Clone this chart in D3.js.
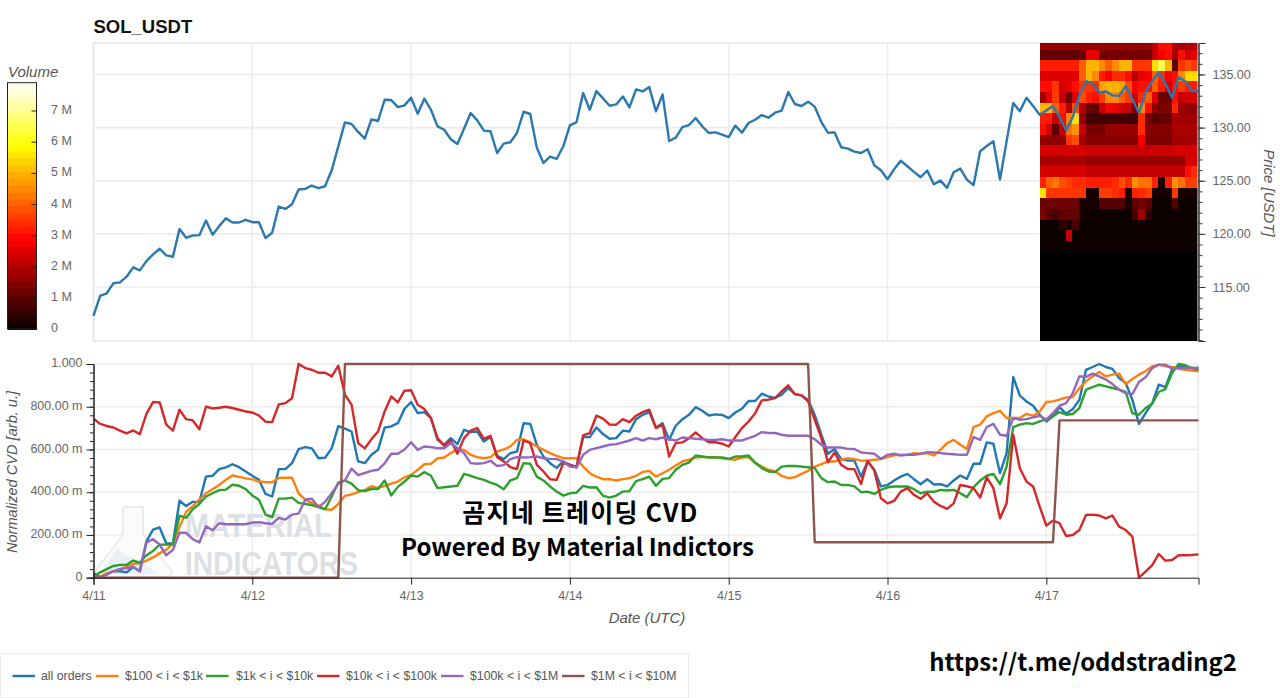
<!DOCTYPE html>
<html>
<head>
<meta charset="utf-8">
<script src="https://d3js.org/d3.v7.min.js"></script>
<style>
  body { margin: 0; background: #fff; }
  text { font-family: "Liberation Sans", Arial, sans-serif; }
  .domain-light { stroke: #e8e8e8; stroke-width: 1.5; fill: none; }
  .grid line { stroke: #ececec; stroke-width: 1.6; }
  .lab text { fill: #666; font-size: 12.5px; }
</style>
</head>
<body>
<script>
// hourly values, 4/11 00:00 -> 4/17 23:00 UTC
let price = [112.28,114.16,114.41,115.35,115.44,115.97,116.85,116.57,117.44,118.07,118.60,117.98,117.85,120.45,119.63,119.85,119.88,121.26,119.91,120.73,121.48,121.07,121.07,121.32,
121.10,121.10,119.60,120.10,122.57,122.35,122.79,124.17,124.23,124.55,124.30,124.48,125.98,128.24,130.49,130.34,129.59,128.96,130.77,130.62,132.62,132.59,131.93,132.09,
132.81,131.31,132.72,131.68,130.12,129.80,128.90,128.46,129.90,131.37,130.68,129.71,129.65,127.61,128.49,128.62,129.49,131.49,131.28,128.11,126.67,127.27,127.05,128.24,
130.21,130.52,133.25,131.68,133.44,132.75,132.06,132.18,132.93,131.90,133.59,133.40,133.81,131.53,133.12,128.74,129.05,130.05,130.24,130.90,130.12,129.49,129.55,129.33,
129.11,130.18,129.52,130.43,130.74,131.18,130.93,131.40,131.59,133.34,132.22,132.03,132.44,131.97,130.52,129.52,129.55,128.15,128.02,127.74,127.61,127.96,126.46,125.99,
125.14,126.08,126.89,126.36,125.83,125.33,125.95,124.67,125.01,124.33,125.80,126.14,125.11,124.58,127.77,128.27,128.71,125.11,128.70,132.31,131.53,132.81,132.03,131.21,
131.62,132.02,130.99,129.74,130.99,133.03,134.37,134.12,133.28,133.43,133.03,132.99,133.90,132.71,131.37,133.34,134.37,135.22,134.12,132.81,134.75,134.37,133.43,133.43];

let cvd = {
  "all orders": [.02,.004,.015,.03,.03,.025,.05,.03,.17,.225,.235,.16,.16,.36,.335,.355,.355,.473,.477,.508,.516,.531,.517,.497,
    .477,.458,.392,.38,.508,.508,.536,.602,.611,.605,.559,.561,.605,.709,.698,.684,.544,.536,.575,.598,.702,.708,.723,.79,
    .822,.77,.775,.747,.645,.622,.653,.625,.692,.681,.684,.637,.658,.57,.555,.583,.59,.723,.72,.622,.567,.536,.514,.544,
    .528,.52,.658,.658,.703,.672,.65,.653,.688,.684,.742,.762,.775,.703,.723,.645,.711,.742,.762,.798,.781,.759,.764,.762,
    .747,.773,.791,.827,.827,.861,.848,.841,.856,.888,.859,.853,.833,.762,.669,.58,.602,.555,.548,.548,.473,.544,.505,.427,
    .434,.455,.473,.486,.461,.4375,.461,.436,.4375,.427,.455,.478,.4625,.533,.533,.633,.627,.489,.583,.939,.852,.825,.805,.7625,
    .731,.755,.798,.767,.789,.833,.973,.986,1,.986,.977,.934,.911,.833,.72,.77,.817,.903,.892,.973,.992,.986,.981,.981],
  "$100 < i < $1k": [0,.005,.02,.03,.04,.05,.065,.067,.08,.095,.115,.13,.16,.238,.308,.335,.365,.395,.414,.434,.458,.478,.472,.465,
    .46,.45,.447,.447,.467,.468,.468,.395,.365,.35,.338,.32,.318,.345,.383,.39,.40,.41,.428,.42,.43,.44,.45,.47,
    .481,.505,.531,.533,.559,.5625,.583,.60,.598,.575,.564,.559,.564,.59,.60,.614,.645,.648,.633,.614,.598,.583,.57,.559,
    .559,.559,.52,.489,.473,.461,.461,.455,.461,.466,.477,.495,.50,.473,.489,.505,.525,.544,.552,.5625,.564,.564,.564,.559,
    .555,.552,.5625,.564,.536,.52,.505,.497,.477,.466,.47,.486,.50,.52,.531,.544,.544,.552,.559,.555,.548,.548,.552,.555,
    .564,.573,.575,.575,.583,.58,.583,.572,.598,.63,.645,.622,.602,.705,.716,.755,.77,.781,.747,.747,.747,.767,.758,.778,
    .822,.825,.833,.844,.845,.8875,.919,.942,.9625,.942,.95,.955,.906,.93,.95,.966,.989,.997,.989,.986,.978,.973,.969,.966],
  "$1k < i < $10k": [.005,.025,.04,.055,.06,.06,.08,.07,.105,.125,.155,.155,.155,.29,.28,.32,.345,.38,.395,.41,.412,.435,.43,.415,
    .385,.365,.295,.283,.37,.37,.375,.35,.345,.34,.33,.32,.38,.445,.455,.44,.41,.405,.415,.415,.455,.385,.425,.45,
    .478,.473,.495,.477,.419,.423,.427,.43,.486,.477,.466,.458,.445,.434,.414,.455,.466,.536,.533,.473,.455,.427,.403,.384,
    .395,.398,.43,.422,.423,.384,.375,.384,.403,.405,.452,.461,.473,.43,.4625,.466,.505,.528,.539,.572,.567,.5625,.5625,.5625,
    .556,.567,.567,.572,.539,.5125,.497,.494,.52,.523,.523,.52,.517,.5125,.466,.447,.45,.434,.434,.427,.40,.403,.392,.411,
    .423,.427,.427,.427,.414,.395,.402,.402,.411,.408,.411,.395,.377,.423,.455,.477,.486,.4375,.52,.705,.716,.723,.72,.731,
    .742,.755,.775,.7625,.766,.794,.88,.892,.903,.895,.8875,.88,.869,.77,.7625,.794,.814,.869,.883,.958,1,.994,.981,.973],
  "$10k < i < $100k": [.744,.72,.71,.703,.688,.675,.689,.672,.767,.822,.82,.716,.688,.786,.742,.736,.695,.80,.792,.795,.80,.794,.786,.778,
    .773,.759,.73,.728,.811,.817,.84,1,.981,.973,.959,.959,.942,.992,.856,.81,.63,.605,.648,.684,.778,.848,.82,.875,
    .877,.809,.789,.747,.653,.617,.642,.58,.653,.688,.70,.65,.664,.564,.544,.517,.508,.642,.63,.528,.497,.461,.458,.536,
    .528,.516,.666,.677,.758,.744,.717,.716,.742,.728,.758,.775,.786,.70,.716,.567,.63,.633,.653,.68,.653,.634,.634,.627,
    .614,.658,.70,.731,.77,.83,.833,.841,.872,.90,.859,.853,.825,.739,.653,.541,.586,.528,.509,.508,.439,.547,.502,.372,
    .348,.359,.403,.419,.388,.369,.395,.356,.336,.322,.348,.434,.428,.419,.375,.47,.419,.278,.348,.669,.5125,.45,.427,.333,
    .244,.267,.255,.195,.20,.223,.294,.295,.291,.278,.291,.239,.223,.192,0,.028,.059,.111,.08,.083,.105,.105,.106,.109],
  "$100k < i < $1M": [0,.002,.015,.03,.04,.045,.05,.03,.165,.18,.155,.105,.13,.21,.21,.18,.165,.24,.222,.255,.25,.25,.25,.25,
    .258,.26,.255,.252,.28,.272,.295,.30,.365,.37,.33,.355,.395,.44,.455,.51,.48,.49,.50,.505,.535,.58,.58,.60,
    .634,.598,.614,.611,.606,.606,.63,.606,.583,.536,.533,.536,.547,.523,.527,.555,.564,.5625,.564,.567,.559,.556,.555,.544,
    .52,.516,.575,.598,.606,.614,.622,.625,.633,.642,.653,.642,.653,.648,.656,.648,.642,.656,.653,.65,.648,.645,.645,.648,
    .642,.642,.642,.653,.664,.681,.677,.677,.669,.664,.664,.664,.664,.648,.622,.609,.609,.609,.603,.602,.586,.583,.58,.556,
    .575,.58,.572,.575,.575,.58,.5875,.586,.583,.58,.578,.575,.575,.658,.645,.705,.72,.669,.664,.747,.739,.742,.75,.758,
    .739,.77,.805,.817,.864,.942,.94,.955,.942,.927,.906,.88,.864,.859,.916,.9375,.981,.997,.997,.978,.981,.981,.981,.981],
  // stays flat between jumps
  "$1M < i < $10M": d3.range(168).map(i => i < 38 ? 0 : i < 109 ? 1 : i < 146 ? .166 : .736)
};
let colors = ["#1f77b4","#ff7f0e","#2ca02c","#d62728","#9467bd","#8c564b"];

// volume by price bucket (lower edge -> 24 hourly columns, in millions)
let heat = {
  137.3:[1.7,1.7,1.7,1.7,1.7,1.7,1.7,1.7,1.7,1.7,1.7,1.7,1.7,1.7,1.7,1.7,1.7,2.2,3,3,2,1.8,2,2],
  136.3:[1.1,1.1,1.1,1.1,1.1,1.1,1.2,2.6,2.6,1.3,1.3,1.3,1.3,1.3,1.3,1.3,1.3,2.2,2.8,3,1.8,3,2.4,2.6],
  135.3:[3.2,3.2,3.2,3.2,3.2,3.2,4,5,5,4.5,4,4.5,5,5,3.5,3.5,3.5,5.5,6.5,5,1,3.5,3.8,3.5],
  134.3:[2.5,2.5,2.5,2.5,2.5,2.5,4,5,4.5,3.2,2.8,3.4,3.4,3,2,2.6,2.8,4,3.4,2.8,3,4.5,5.5,5.5],
  133.3:[3,3,3.5,2.4,2.6,3,3.5,3.5,3.4,4.8,5,5,4.8,3.8,2.8,3,3,4,3.2,2.4,3,3.6,3.2,3.2],
  132.3:[1.8,2.6,3.6,2.2,1.2,2.5,3.8,3.2,3,3.6,4.5,4.5,4,3.6,2.4,3.4,4,2.5,1.2,1.2,3,2.2,2.4,2.4],
  131.3:[5,5,4,3.2,2,3.8,2,1.2,1,2.2,2.8,2.6,2.4,2.2,1.4,4.5,3,1.6,1.4,1.4,3.4,1.8,1.6,1.6],
  130.3:[3.2,3.2,2.2,3,4.5,5.5,1.6,.7,.7,.7,.7,.7,.7,.7,.7,3.4,1.3,.9,1.1,1.1,1.9,1.8,1.8,1.8],
  129.3:[3,2.4,1,2.2,4.2,4.6,2.2,1.3,1.3,1.3,1.7,1.7,1.7,1.7,1.7,3.4,1.5,1.5,1.5,1.5,1.9,1.9,1.9,1.9],
  128.3:[1.6,1.6,1.6,1.6,3.5,3.8,1.8,1.5,1.5,1.5,1.5,1.5,1.5,1.5,1.5,2.8,1.4,1.4,1.4,1.4,1.8,1.8,1.8,1.8],
  127.3:[2.4,2.4,2.4,2.4,2.4,2.4,2.4,2.3,2.3,2.3,2.3,2.3,2.3,2.3,2.3,2.3,2.3,2.3,2.3,2.3,2.4,2.4,2.4,2.4],
  126.3:[1.9,1.9,1.9,1.9,1.9,1.9,1.9,1.7,1.7,1.7,1.7,1.7,1.7,1.7,1.7,1.7,1.7,1.7,1.7,1.7,1.7,1.7,2.4,2.4],
  125.3:[2.4,2.4,2.4,2.4,2.4,2.4,2.4,2.2,2.2,2.2,2.2,2.2,2.2,2.2,2.2,2.2,2.2,2.2,2.2,2.2,2.2,2.2,3,3.4],
  124.3:[3.3,4,4.3,3.8,3.6,3.4,3.4,3.2,3.2,3.2,3.2,3.4,3.8,3.4,4.6,4.2,4.2,3.3,.3,3.2,4.6,4.2,3.6,3.6],
  123.3:[5.5,3.5,3.5,3.5,3.5,3.5,3.5,.2,.2,3.6,3.6,3.4,3.2,.2,3.3,3.4,3.6,.2,.2,.2,3.5,.2,.2,.2],
  122.3:[1.2,1.2,1.2,1.2,1.2,1.2,.2,.2,.2,.9,.9,.9,.9,.2,1,1.3,1,.1,.1,.1,.9,.1,.1,.1],
  121.3:[1.4,1,.8,1,1.1,1.1,.3,.1,.1,.1,.1,.1,.1,.1,.8,1.8,.5,.1,.1,.1,.1,.1,.1,.1],
  120.3:[.1,.1,.1,.5,.3,.8,.1,.05,.05,.05,.05,.05,.05,.05,.05,.2,.05,.05,.05,.05,.05,.05,.05,.05],
  119.3:[.05,.05,.05,.05,2.2,.05,.05,.05,.05,.05,.05,.05,.05,.05,.05,.05,.05,.05,.05,.05,.05,.05,.05,.05],
  118.3:[.02,.02,.02,.1,.1,.1,.1,.02,.02,.02,.02,.02,.02,.02,.02,.02,.02,.02,.02,.02,.02,.02,.02,.02]
};
d3.range(109.3, 118, 1).forEach(p => { heat[p.toFixed(1)] = d3.range(24).map(() => 0); });

let t0 = Date.UTC(2025, 3, 11);
let hour = 3600000;
let times = price.map((d, i) => new Date(t0 + i * hour));

let x = d3.scaleUtc().domain([times[0], times[167]]).range([93.5, 1198.5]);
let yPrice = d3.scaleLinear().domain([109.92, 137.96]).range([341, 43]);
let yCvd = d3.scaleLinear().domain([0, 1]).range([577.7, 364]);
let maxVol = 7.89;
let hot = d3.scaleLinear().domain([0, .365 * maxVol, .746 * maxVol, maxVol]).range(["#050000", "#ff0000", "#ffff00", "#ffffff"]);
let yBar = d3.scaleLinear().domain([0, maxVol]).range([329, 82.7]);

let svg = d3.select("body").append("svg").attr("width", 1280).attr("height", 698);
let days = d3.utcDay.range(times[0], new Date(times[167].getTime() + 1));
let dayFmt = d3.utcFormat("%-m/%-d");

svg.append("text").attr("x", 93.5).attr("y", 33).attr("font-size", 18.5).attr("font-weight", "bold").attr("fill", "#111").text("SOL_USDT");

// top panel
let top_ = svg.append("g");
top_.append("g").attr("class", "grid").selectAll("line").data([115, 120, 125, 130, 135]).join("line")
  .attr("x1", 93.5).attr("x2", 1198).attr("y1", d => yPrice(d)).attr("y2", d => yPrice(d));
top_.append("g").attr("class", "grid").selectAll("line").data(days).join("line")
  .attr("x1", d => x(d)).attr("x2", d => x(d)).attr("y1", 43).attr("y2", 341);
top_.append("rect").attr("class", "domain-light").attr("x", 93.5).attr("y", 43).attr("width", 1105).attr("height", 298);

let defs = svg.append("defs");
defs.append("clipPath").attr("id", "topclip").append("rect").attr("x", 1040).attr("y", 43).attr("width", 157.5).attr("height", 298);
defs.append("filter").attr("id", "soft").attr("x", "-2%").attr("y", "-2%").attr("width", "104%").attr("height", "104%")
  .append("feGaussianBlur").attr("stdDeviation", .7);
let cells = [];
Object.keys(heat).forEach(p => heat[p].forEach((v, c) => cells.push({ p: +p, c: c, v: v })));
// cells overlap by a pixel so no seams show through the blur
top_.append("g").attr("clip-path", "url(#topclip)").append("g").attr("filter", "url(#soft)").attr("shape-rendering", "crispEdges")
  .selectAll("rect").data(cells).join("rect")
  .attr("x", d => x(times[143 + d.c]) - .5)
  .attr("width", d => x(times[144 + d.c]) - x(times[143 + d.c]) + 1)
  .attr("y", d => yPrice(d.p + 1) - .5)
  .attr("height", d => yPrice(d.p) - yPrice(d.p + 1) + 1)
  .attr("fill", d => hot(d.v));

top_.append("path").datum(price).attr("fill", "none").attr("stroke", "#2a78ad").attr("stroke-width", 2.4)
  .attr("stroke-linejoin", "round")
  .attr("d", d3.line().x((d, i) => x(times[i])).y(d => yPrice(d)));

top_.append("g").attr("transform", "translate(1198.5,0)")
  .call(d3.axisRight(yPrice).tickValues(d3.range(110, 138)).tickSize(4).tickFormat(""))
  .call(g => g.selectAll("line,path").attr("stroke", "#333"));
top_.append("g").attr("class", "lab").attr("transform", "translate(1198.5,0)")
  .call(d3.axisRight(yPrice).tickValues([115, 120, 125, 130, 135]).tickSize(7).tickPadding(7).tickFormat(d3.format(".2f")))
  .call(g => g.selectAll("line,path").attr("stroke", "#333"));
svg.append("text").attr("transform", "translate(1264,193) rotate(90)").attr("text-anchor", "middle")
  .attr("font-size", 15).attr("font-style", "italic").attr("fill", "#555").text("Price [USDT]");

// volume colorbar
let bands = d3.range(36);
svg.append("g").attr("shape-rendering", "crispEdges").selectAll("rect").data(bands).join("rect")
  .attr("x", 7.5).attr("width", 29)
  .attr("y", d => yBar((d + 1) / 36 * maxVol))
  .attr("height", d => yBar(d / 36 * maxVol) - yBar((d + 1) / 36 * maxVol) + .5)
  .attr("fill", d => hot((d + .5) / 36 * maxVol));
svg.append("rect").attr("x", 7.5).attr("y", 82.7).attr("width", 29).attr("height", 246.3).attr("fill", "none").attr("stroke", "#222");
let barAxis = svg.append("g").attr("transform", "translate(36.5,0)")
  .call(d3.axisLeft(yBar).tickValues(d3.range(1, 8)).tickSize(5).tickFormat(""));
barAxis.select(".domain").remove();
barAxis.selectAll("line").attr("stroke", "#222");
svg.append("g").attr("class", "lab").selectAll("text").data(d3.range(0, 8)).join("text")
  .attr("x", 51).attr("y", d => yBar(d) + (d ? 3.5 : 3)).text(d => d ? d + " M" : "0");
svg.append("text").attr("x", 8).attr("y", 77).attr("font-size", 15).attr("font-style", "italic").attr("fill", "#555").text("Volume");

// bottom panel
let low = svg.append("g");
low.append("g").attr("class", "grid").selectAll("line").data([.2, .4, .6, .8, 1]).join("line")
  .attr("x1", 93.5).attr("x2", 1198).attr("y1", d => yCvd(d)).attr("y2", d => yCvd(d));
low.append("g").attr("class", "grid").selectAll("line").data(days).join("line")
  .attr("x1", d => x(d)).attr("x2", d => x(d)).attr("y1", 364).attr("y2", 577);
low.append("line").attr("class", "domain-light").attr("x1", 1198).attr("x2", 1198).attr("y1", 364).attr("y2", 577);

// watermark
let wm = low.append("g");
wm.append("path").attr("d", "M123,507 L143,507 L143,535 L171,570 Q173,577 165,577 L100,577 Q93,577 96,570 L123,535 Z")
  .attr("fill", "#fbfbfb").attr("stroke", "#ececec").attr("stroke-width", 2);
wm.append("path").attr("d", "M117,548 L101,574 L158,574 L140,560 L126,556 Z").attr("fill", "#e8f1f5");
wm.append("text").attr("x", 185).attr("y", 537).attr("textLength", 147).attr("lengthAdjust", "spacingAndGlyphs")
  .attr("font-size", 33).attr("font-weight", "bold").attr("fill", "#dcdfe3").text("MATERIAL");
wm.append("text").attr("x", 185).attr("y", 575).attr("textLength", 173).attr("lengthAdjust", "spacingAndGlyphs")
  .attr("font-size", 33).attr("font-weight", "bold").attr("fill", "#dcdfe3").text("INDICATORS");

let line = d3.line().x((d, i) => x(times[i])).y(d => yCvd(d));
Object.keys(cvd).forEach((k, i) => {
  low.append("path").datum(cvd[k]).attr("fill", "none").attr("stroke", colors[i]).attr("stroke-width", 2.4)
    .attr("stroke-linejoin", "round").attr("d", line);
});

low.append("g").attr("transform", "translate(93.5,0)")
  .call(d3.axisLeft(yCvd).tickValues(d3.range(0, 26).map(d => d * .04)).tickSize(3.5).tickFormat(""))
  .call(g => g.selectAll("line,path").attr("stroke", "#222"));
low.append("g").attr("class", "lab").attr("transform", "translate(93.5,0)")
  .call(d3.axisLeft(yCvd).tickValues([0, .2, .4, .6, .8, 1]).tickSize(7).tickPadding(4)
    .tickFormat(d => d === 0 ? "0" : d === 1 ? "1.000" : d3.format(".2f")(d * 1000) + " m"))
  .call(g => g.selectAll("line,path").attr("stroke", "#222"))
  .call(g => g.selectAll("text").attr("dy", "0.22em"));
low.append("g").attr("class", "lab").attr("transform", "translate(0,577.7)")
  .call(d3.axisBottom(x).tickValues(days).tickSize(7).tickPadding(6).tickFormat(dayFmt))
  .call(g => g.selectAll("line,path").attr("stroke", "#222"));

svg.append("text").attr("transform", "translate(17,472) rotate(-90)").attr("text-anchor", "middle")
  .attr("font-size", 14.6).attr("font-style", "italic").attr("fill", "#555").text("Normalized CVD [arb. u.]");
svg.append("text").attr("x", 647).attr("y", 623).attr("text-anchor", "middle")
  .attr("font-size", 15).attr("font-style", "italic").attr("fill", "#555").text("Date (UTC)");

// legend
svg.append("rect").attr("x", 0.5).attr("y", 653.5).attr("width", 688).attr("height", 44).attr("fill", "#fff").attr("stroke", "#eee");
let legendX = [[12.5, 41], [96, 125], [206, 236], [317, 346], [441, 470], [562, 591]];
let lg = svg.append("g").selectAll("g").data(Object.keys(cvd)).join("g");
lg.append("line").attr("x1", (d, i) => legendX[i][0]).attr("x2", (d, i) => legendX[i][0] + 22.5).attr("y1", 676).attr("y2", 676)
  .attr("stroke", (d, i) => colors[i]).attr("stroke-width", 2.4);
lg.append("text").attr("x", (d, i) => legendX[i][1]).attr("y", 680).attr("font-size", 12.3).attr("fill", "#555").text(d => d);

// text pasted over the chart
let cjk = '"Noto Sans CJK KR", sans-serif';
svg.append("text").attr("x", 580.5).attr("y", 522).attr("text-anchor", "middle").style("font-family", cjk)
  .attr("font-size", 25).attr("font-weight", "bold").attr("letter-spacing", 1.2).attr("fill", "#000").text("곰지네 트레이딩 CVD");
svg.append("text").attr("x", 577.5).attr("y", 556).attr("text-anchor", "middle").style("font-family", cjk)
  .attr("font-size", 24).attr("font-weight", "bold").attr("fill", "#000").text("Powered By Material Indictors");
svg.append("text").attr("x", 1083).attr("y", 671).attr("text-anchor", "middle").style("font-family", cjk)
  .attr("font-size", 23.8).attr("font-weight", "bold").attr("fill", "#000").text("https://t.me/oddstrading2");
</script>
</body>
</html>
